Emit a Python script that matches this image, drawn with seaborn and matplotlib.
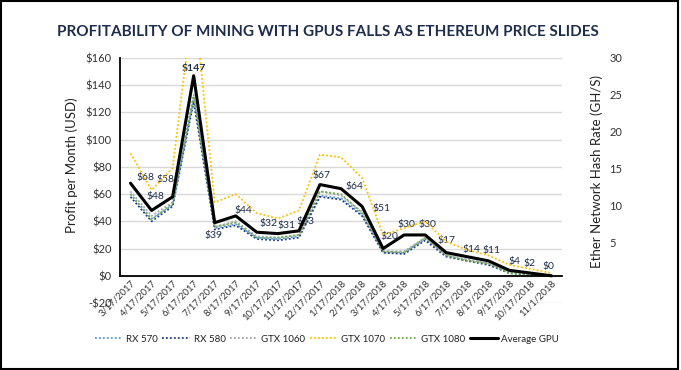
import numpy as np
import pandas as pd
import matplotlib
matplotlib.use("Agg")
import matplotlib.pyplot as plt
import seaborn as sns
from matplotlib.ticker import FuncFormatter
from matplotlib.patches import Rectangle

dates = ["3/17/2017", "4/17/2017", "5/17/2017", "6/17/2017", "7/17/2017", "8/17/2017",
         "9/17/2017", "10/17/2017", "11/17/2017", "12/17/2017", "1/17/2018", "2/17/2018",
         "3/17/2018", "4/17/2018", "5/17/2018", "6/17/2018", "7/17/2018", "8/17/2018",
         "9/17/2018", "10/17/2018", "11/1/2018"]

rx570 = [60, 42, 52, 130, 35, 38, 28, 27, 29, 59, 57, 45, 17, 17, 27, 15, 11, 9, 2, 1, 0]
rx580 = [58, 40, 51, 128, 34, 37, 27, 26, 28, 58, 56, 44, 17, 16, 26, 14, 11, 8, 2, 0.5, 0]
gtx1060 = [62, 44, 54, 133, 36, 40, 29, 28, 30, 62, 59, 47, 18, 18, 28, 15, 12, 9, 3, 1, 0]
gtx1070 = [90, 63, 79, 205, 54, 60, 46, 42, 48, 89, 87, 72, 30, 35, 40, 25, 19, 15, 8, 5, 2]
gtx1080 = [60, 41, 53, 132, 36, 39, 28, 28, 30, 62, 60, 46, 18, 17, 28, 15, 11, 9, 2, 1, 0]
average = [68, 48, 58, 147, 39, 44, 32, 31, 33, 67, 64, 51, 20, 30, 30, 17, 14, 11, 4, 2, 0]

series = {"RX 570": rx570, "RX 580": rx580, "GTX 1060": gtx1060,
          "GTX 1070": gtx1070, "GTX 1080": gtx1080}
colors = {"RX 570": "#5b9bd5", "RX 580": "#1f3a8f", "GTX 1060": "#a5a5a5",
          "GTX 1070": "#ffc000", "GTX 1080": "#70ad47"}

# label offsets in pixels (dx right, dy up)
label_off = [(15, 6), (4, 14), (-7, 17), (0, 7), (-1, -13), (8, 5), (12, 9), (9, 8),
             (7, 9), (2, 9), (13, 2), (19, -2), (6, 12), (2, 10), (2, 10), (0, 12),
             (4, 7), (3, 10), (5, 9), (-1, 10), (-3, 9)]

sns.set_style("white")
plt.rcParams["font.family"] = ["Lato", "DejaVu Sans"]
navy = "#1f2d4d"

fig = plt.figure(figsize=(6.81, 3.70), dpi=100)
ax = fig.add_axes([120 / 681, 1 - 303 / 370, 442 / 681, 245 / 370])

for name, vals in series.items():
    sns.lineplot(x=dates, y=vals, sort=False, ax=ax, color=colors[name],
                 linestyle=(0, (1, 1.2)), linewidth=1.3, label=name)
sns.lineplot(x=dates, y=average, sort=False, ax=ax, color="black",
             linewidth=2.2, label="Average GPU")

for i, v in enumerate(average):
    dx, dy = label_off[i]
    ax.annotate(f"${v}", (i, v), xytext=(dx * 0.72, dy * 0.72), textcoords="offset points",
                ha="center", va="center", fontsize=7.5, color=navy,
                fontweight="bold" if i == 3 else "normal", zorder=1)

ax.set_xlim(-0.5, len(dates) - 0.5)
ax.set_ylim(-20, 160)
ax.set_yticks(range(-20, 161, 20))
ax.yaxis.set_major_formatter(FuncFormatter(lambda v, p: f"-${-int(v)}" if v < 0 else f"${int(v)}"))
ax.grid(axis="y", color="#d9d9d9", linewidth=1)
ax.set_axisbelow(True)
for s in ["top", "right"]:
    ax.spines[s].set_visible(False)
ax.spines["bottom"].set_position(("data", 0))
ax.spines["bottom"].set_color("black")
ax.spines["bottom"].set_linewidth(1.3)
ax.spines["left"].set_color("black")
ax.spines["left"].set_linewidth(1.3)
ax.spines["left"].set_bounds(0, 160)
ax.tick_params(axis="both", length=0)
ax.tick_params(axis="y", labelsize=8, labelcolor="#333333", pad=6)
ax.tick_params(axis="x", labelsize=6.8, labelcolor="#333333", pad=2)
plt.setp(ax.get_xticklabels(), rotation=45, ha="right", rotation_mode="anchor")
ax.set_xlabel("")
ax.set_ylabel("Profit per Month (USD)", fontsize=9.5, color="#222222")
ax.yaxis.set_label_coords(-0.095, 0.563)

ax2 = ax.twinx()
ax2.set_ylim(-3.2, 30)
ax2.set_yticks([5, 10, 15, 20, 25, 30])
for s in ax2.spines.values():
    s.set_visible(False)
ax2.tick_params(axis="y", length=0, labelsize=8, labelcolor="#333333", pad=34)
ax2.set_ylabel("Ether Network Hash Rate (GH/S)", fontsize=9.5, color="#222222")
ax2.yaxis.set_label_coords(1.065, 0.535)

handles, labels = ax.get_legend_handles_labels()
ax.legend_.remove()
fig.legend(handles, labels, loc="center", bbox_to_anchor=(327 / 681, 1 - 339 / 370),
           ncol=6, frameon=False, fontsize=7, handlelength=2.8, handletextpad=0.4,
           columnspacing=0.5, labelcolor="#222222")

fig.text(57 / 681, 1 - 32 / 370, "PROFITABILITY OF MINING WITH GPUS FALLS AS ETHEREUM PRICE SLIDES",
         fontsize=11, fontweight="bold", color=navy, ha="left", va="center")

fig.patches.append(Rectangle((0.002, 0.003), 0.994, 0.994, transform=fig.transFigure,
                             fill=False, edgecolor="black", linewidth=1.5))

fig.savefig("out.png", dpi=100)
